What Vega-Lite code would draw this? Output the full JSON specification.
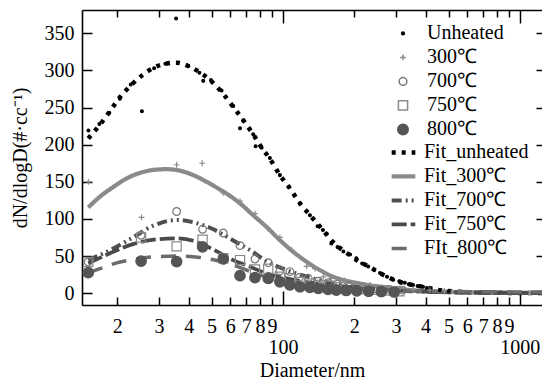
{
  "$schema": "https://vega.github.io/schema/vega-lite/v6.json",
  "width": 460,
  "height": 295,
  "autosize": {"type": "none"},
  "padding": {"left": 82, "top": 10, "right": 0, "bottom": 77},
  "background": "white",
  "config": {
    "view": {"stroke": null},
    "font": "Liberation Serif",
    "axis": {"grid": false, "labelFont": "Liberation Serif", "titleFont": "Liberation Serif", "labelFontSize": 20, "titleFontSize": 20, "titleFontWeight": "normal", "labelColor": "black", "titleColor": "black", "tickColor": "black", "domainColor": "black", "domainWidth": 1.6, "tickWidth": 1.5, "labelOverlap": false, "labelFlush": false},
    "legend": {"labelFont": "Liberation Serif", "labelFontSize": 20, "labelColor": "black", "padding": 0, "rowPadding": 3, "clipHeight": 20.8}
  },
  "datasets": {
    "pts": [
      {"d": 15.1, "v": 219, "series": "Unheated"},
      {"d": 16.8, "v": 228, "series": "Unheated"},
      {"d": 18.5, "v": 243, "series": "Unheated"},
      {"d": 20.5, "v": 262, "series": "Unheated"},
      {"d": 22.8, "v": 281, "series": "Unheated"},
      {"d": 25.4, "v": 245, "series": "Unheated"},
      {"d": 28.6, "v": 303, "series": "Unheated"},
      {"d": 31.9, "v": 309, "series": "Unheated"},
      {"d": 35.4, "v": 370, "series": "Unheated"},
      {"d": 39.9, "v": 306, "series": "Unheated"},
      {"d": 44.4, "v": 297, "series": "Unheated"},
      {"d": 46.1, "v": 286, "series": "Unheated"},
      {"d": 49.7, "v": 287, "series": "Unheated"},
      {"d": 55.1, "v": 273, "series": "Unheated"},
      {"d": 61.7, "v": 252, "series": "Unheated"},
      {"d": 65.9, "v": 222, "series": "Unheated"},
      {"d": 68, "v": 233, "series": "Unheated"},
      {"d": 74.9, "v": 214, "series": "Unheated"},
      {"d": 76.7, "v": 198, "series": "Unheated"},
      {"d": 81.3, "v": 196, "series": "Unheated"},
      {"d": 88.1, "v": 182, "series": "Unheated"},
      {"d": 97.1, "v": 159, "series": "Unheated"},
      {"d": 106, "v": 143, "series": "Unheated"},
      {"d": 118, "v": 121, "series": "Unheated"},
      {"d": 130, "v": 105, "series": "Unheated"},
      {"d": 140, "v": 90, "series": "Unheated"},
      {"d": 147.5, "v": 85, "series": "Unheated"},
      {"d": 153, "v": 80, "series": "Unheated"},
      {"d": 160, "v": 67, "series": "Unheated"},
      {"d": 170, "v": 62, "series": "Unheated"},
      {"d": 180, "v": 56, "series": "Unheated"},
      {"d": 192, "v": 52, "series": "Unheated"},
      {"d": 204, "v": 47, "series": "Unheated"},
      {"d": 216, "v": 40, "series": "Unheated"},
      {"d": 229, "v": 36, "series": "Unheated"},
      {"d": 243, "v": 31, "series": "Unheated"},
      {"d": 257, "v": 27, "series": "Unheated"},
      {"d": 275, "v": 22, "series": "Unheated"},
      {"d": 292, "v": 18, "series": "Unheated"},
      {"d": 310, "v": 16, "series": "Unheated"},
      {"d": 327, "v": 14, "series": "Unheated"},
      {"d": 340, "v": 12, "series": "Unheated"},
      {"d": 354, "v": 11, "series": "Unheated"},
      {"d": 370, "v": 9.5, "series": "Unheated"},
      {"d": 390, "v": 8.5, "series": "Unheated"},
      {"d": 405, "v": 7, "series": "Unheated"},
      {"d": 420, "v": 6, "series": "Unheated"},
      {"d": 460, "v": 4, "series": "Unheated"},
      {"d": 500, "v": 2.5, "series": "Unheated"},
      {"d": 15.1, "v": 150, "series": "300℃"},
      {"d": 25.3, "v": 102, "series": "300℃"},
      {"d": 35.6, "v": 173, "series": "300℃"},
      {"d": 45.6, "v": 175, "series": "300℃"},
      {"d": 56, "v": 135, "series": "300℃"},
      {"d": 65.9, "v": 124, "series": "300℃"},
      {"d": 76.2, "v": 107, "series": "300℃"},
      {"d": 86.7, "v": 87, "series": "300℃"},
      {"d": 97.1, "v": 75, "series": "300℃"},
      {"d": 108.8, "v": 58, "series": "300℃"},
      {"d": 125.9, "v": 36, "series": "300℃"},
      {"d": 136.5, "v": 33, "series": "300℃"},
      {"d": 148, "v": 22, "series": "300℃"},
      {"d": 160, "v": 20, "series": "300℃"},
      {"d": 182, "v": 17, "series": "300℃"},
      {"d": 205, "v": 12, "series": "300℃"},
      {"d": 233, "v": 11, "series": "300℃"},
      {"d": 262, "v": 8, "series": "300℃"},
      {"d": 312, "v": 6.5, "series": "300℃"},
      {"d": 355, "v": 5, "series": "300℃"},
      {"d": 417, "v": 4, "series": "300℃"},
      {"d": 480, "v": 3, "series": "300℃"},
      {"d": 15.08, "v": 42, "series": "700℃"},
      {"d": 25.2, "v": 78, "series": "700℃"},
      {"d": 35.6, "v": 110, "series": "700℃"},
      {"d": 45.8, "v": 86, "series": "700℃"},
      {"d": 56, "v": 81, "series": "700℃"},
      {"d": 65.9, "v": 64, "series": "700℃"},
      {"d": 76.2, "v": 46, "series": "700℃"},
      {"d": 86.7, "v": 41, "series": "700℃"},
      {"d": 97.1, "v": 30, "series": "700℃"},
      {"d": 107, "v": 29, "series": "700℃"},
      {"d": 117.2, "v": 21, "series": "700℃"},
      {"d": 127.9, "v": 20, "series": "700℃"},
      {"d": 141, "v": 16, "series": "700℃"},
      {"d": 155, "v": 14, "series": "700℃"},
      {"d": 170, "v": 12, "series": "700℃"},
      {"d": 190, "v": 10, "series": "700℃"},
      {"d": 215, "v": 8, "series": "700℃"},
      {"d": 245, "v": 6, "series": "700℃"},
      {"d": 280, "v": 5, "series": "700℃"},
      {"d": 320, "v": 4, "series": "700℃"},
      {"d": 15.08, "v": 42, "series": "750℃"},
      {"d": 25.2, "v": 75, "series": "750℃"},
      {"d": 35.6, "v": 63, "series": "750℃"},
      {"d": 45.8, "v": 72, "series": "750℃"},
      {"d": 56, "v": 47, "series": "750℃"},
      {"d": 65.9, "v": 44.5, "series": "750℃"},
      {"d": 76.2, "v": 32, "series": "750℃"},
      {"d": 86.7, "v": 33, "series": "750℃"},
      {"d": 97.1, "v": 22, "series": "750℃"},
      {"d": 107, "v": 20, "series": "750℃"},
      {"d": 118, "v": 15, "series": "750℃"},
      {"d": 130, "v": 13, "series": "750℃"},
      {"d": 143, "v": 11, "series": "750℃"},
      {"d": 158, "v": 10, "series": "750℃"},
      {"d": 175, "v": 8, "series": "750℃"},
      {"d": 195, "v": 7, "series": "750℃"},
      {"d": 218, "v": 5.5, "series": "750℃"},
      {"d": 245, "v": 4.5, "series": "750℃"},
      {"d": 275, "v": 3.5, "series": "750℃"},
      {"d": 310, "v": 2.5, "series": "750℃"},
      {"d": 15.08, "v": 27.5, "series": "800℃"},
      {"d": 25.2, "v": 43, "series": "800℃"},
      {"d": 35.6, "v": 42.5, "series": "800℃"},
      {"d": 45.8, "v": 62.4, "series": "800℃"},
      {"d": 56, "v": 46, "series": "800℃"},
      {"d": 65.9, "v": 23.5, "series": "800℃"},
      {"d": 76.2, "v": 21, "series": "800℃"},
      {"d": 86.7, "v": 19.8, "series": "800℃"},
      {"d": 97.1, "v": 15.2, "series": "800℃"},
      {"d": 107, "v": 11, "series": "800℃"},
      {"d": 118, "v": 8.5, "series": "800℃"},
      {"d": 130, "v": 7.7, "series": "800℃"},
      {"d": 141, "v": 6.3, "series": "800℃"},
      {"d": 155, "v": 5, "series": "800℃"},
      {"d": 168, "v": 4, "series": "800℃"},
      {"d": 185, "v": 3.5, "series": "800℃"},
      {"d": 205, "v": 3, "series": "800℃"},
      {"d": 230, "v": 2.5, "series": "800℃"},
      {"d": 260, "v": 2, "series": "800℃"},
      {"d": 295, "v": 1.5, "series": "800℃"}
    ],
    "fits": [
      {"d": 15.08, "v": 208.5, "fit": "Fit_unheated"},
      {"d": 16.79, "v": 226, "fit": "Fit_unheated"},
      {"d": 18.5, "v": 244, "fit": "Fit_unheated"},
      {"d": 20.52, "v": 264, "fit": "Fit_unheated"},
      {"d": 22.84, "v": 280, "fit": "Fit_unheated"},
      {"d": 25.59, "v": 294, "fit": "Fit_unheated"},
      {"d": 28.56, "v": 304, "fit": "Fit_unheated"},
      {"d": 31.87, "v": 309, "fit": "Fit_unheated"},
      {"d": 35.61, "v": 310.5, "fit": "Fit_unheated"},
      {"d": 39.85, "v": 306, "fit": "Fit_unheated"},
      {"d": 44.36, "v": 298, "fit": "Fit_unheated"},
      {"d": 49.7, "v": 286, "fit": "Fit_unheated"},
      {"d": 55.13, "v": 271, "fit": "Fit_unheated"},
      {"d": 61.7, "v": 251, "fit": "Fit_unheated"},
      {"d": 68, "v": 233, "fit": "Fit_unheated"},
      {"d": 74.9, "v": 214, "fit": "Fit_unheated"},
      {"d": 81.3, "v": 196, "fit": "Fit_unheated"},
      {"d": 88.1, "v": 181, "fit": "Fit_unheated"},
      {"d": 97.1, "v": 159, "fit": "Fit_unheated"},
      {"d": 106, "v": 143, "fit": "Fit_unheated"},
      {"d": 118, "v": 121, "fit": "Fit_unheated"},
      {"d": 130, "v": 105, "fit": "Fit_unheated"},
      {"d": 147.5, "v": 85, "fit": "Fit_unheated"},
      {"d": 162.5, "v": 69, "fit": "Fit_unheated"},
      {"d": 186, "v": 54, "fit": "Fit_unheated"},
      {"d": 211, "v": 42, "fit": "Fit_unheated"},
      {"d": 233, "v": 35, "fit": "Fit_unheated"},
      {"d": 275, "v": 22, "fit": "Fit_unheated"},
      {"d": 312, "v": 15, "fit": "Fit_unheated"},
      {"d": 354, "v": 11, "fit": "Fit_unheated"},
      {"d": 390, "v": 8.5, "fit": "Fit_unheated"},
      {"d": 460, "v": 4, "fit": "Fit_unheated"},
      {"d": 558, "v": 1.8, "fit": "Fit_unheated"},
      {"d": 700, "v": 0.7, "fit": "Fit_unheated"},
      {"d": 900, "v": 0.3, "fit": "Fit_unheated"},
      {"d": 1240, "v": 0.1, "fit": "Fit_unheated"},
      {"d": 15.08, "v": 115.5, "fit": "Fit_300℃"},
      {"d": 16.9, "v": 130, "fit": "Fit_300℃"},
      {"d": 19.23, "v": 143, "fit": "Fit_300℃"},
      {"d": 21.9, "v": 154.6, "fit": "Fit_300℃"},
      {"d": 24.93, "v": 162, "fit": "Fit_300℃"},
      {"d": 28.36, "v": 166, "fit": "Fit_300℃"},
      {"d": 32.31, "v": 167, "fit": "Fit_300℃"},
      {"d": 36.77, "v": 165, "fit": "Fit_300℃"},
      {"d": 41.83, "v": 159, "fit": "Fit_300℃"},
      {"d": 47.65, "v": 150, "fit": "Fit_300℃"},
      {"d": 53.3, "v": 141, "fit": "Fit_300℃"},
      {"d": 57.9, "v": 134, "fit": "Fit_300℃"},
      {"d": 65.9, "v": 121, "fit": "Fit_300℃"},
      {"d": 74.9, "v": 105, "fit": "Fit_300℃"},
      {"d": 85.4, "v": 89, "fit": "Fit_300℃"},
      {"d": 97.1, "v": 71.4, "fit": "Fit_300℃"},
      {"d": 110.5, "v": 55.7, "fit": "Fit_300℃"},
      {"d": 125.9, "v": 42.2, "fit": "Fit_300℃"},
      {"d": 143.3, "v": 31, "fit": "Fit_300℃"},
      {"d": 163, "v": 22, "fit": "Fit_300℃"},
      {"d": 174, "v": 19, "fit": "Fit_300℃"},
      {"d": 211.3, "v": 13, "fit": "Fit_300℃"},
      {"d": 256.7, "v": 8.5, "fit": "Fit_300℃"},
      {"d": 320.9, "v": 5, "fit": "Fit_300℃"},
      {"d": 460, "v": 2, "fit": "Fit_300℃"},
      {"d": 823, "v": 0.6, "fit": "Fit_300℃"},
      {"d": 1240, "v": 0.2, "fit": "Fit_300℃"},
      {"d": 15.08, "v": 44.5, "fit": "Fit_700℃"},
      {"d": 19.23, "v": 60, "fit": "Fit_700℃"},
      {"d": 23.3, "v": 75, "fit": "Fit_700℃"},
      {"d": 28.4, "v": 91, "fit": "Fit_700℃"},
      {"d": 35.6, "v": 98.5, "fit": "Fit_700℃"},
      {"d": 44.6, "v": 93, "fit": "Fit_700℃"},
      {"d": 50.8, "v": 86, "fit": "Fit_700℃"},
      {"d": 61.7, "v": 71, "fit": "Fit_700℃"},
      {"d": 72.6, "v": 58, "fit": "Fit_700℃"},
      {"d": 83.9, "v": 44.5, "fit": "Fit_700℃"},
      {"d": 97.1, "v": 34.6, "fit": "Fit_700℃"},
      {"d": 114, "v": 26.5, "fit": "Fit_700℃"},
      {"d": 134, "v": 19.8, "fit": "Fit_700℃"},
      {"d": 163, "v": 13, "fit": "Fit_700℃"},
      {"d": 200, "v": 8.5, "fit": "Fit_700℃"},
      {"d": 257, "v": 5, "fit": "Fit_700℃"},
      {"d": 330, "v": 3, "fit": "Fit_700℃"},
      {"d": 460, "v": 1.5, "fit": "Fit_700℃"},
      {"d": 700, "v": 0.6, "fit": "Fit_700℃"},
      {"d": 1240, "v": 0.2, "fit": "Fit_700℃"},
      {"d": 15.08, "v": 40, "fit": "Fit_750℃"},
      {"d": 19.23, "v": 55.7, "fit": "Fit_750℃"},
      {"d": 23.3, "v": 66, "fit": "Fit_750℃"},
      {"d": 29.3, "v": 72.4, "fit": "Fit_750℃"},
      {"d": 35.6, "v": 73.7, "fit": "Fit_750℃"},
      {"d": 41.8, "v": 70.5, "fit": "Fit_750℃"},
      {"d": 49.2, "v": 61, "fit": "Fit_750℃"},
      {"d": 61.7, "v": 44.5, "fit": "Fit_750℃"},
      {"d": 72.6, "v": 35.5, "fit": "Fit_750℃"},
      {"d": 85.4, "v": 26.5, "fit": "Fit_750℃"},
      {"d": 103.7, "v": 19.8, "fit": "Fit_750℃"},
      {"d": 126, "v": 15, "fit": "Fit_750℃"},
      {"d": 163, "v": 10.5, "fit": "Fit_750℃"},
      {"d": 210, "v": 7, "fit": "Fit_750℃"},
      {"d": 257, "v": 5, "fit": "Fit_750℃"},
      {"d": 330, "v": 3, "fit": "Fit_750℃"},
      {"d": 460, "v": 1.5, "fit": "Fit_750℃"},
      {"d": 700, "v": 0.6, "fit": "Fit_750℃"},
      {"d": 1240, "v": 0.2, "fit": "Fit_750℃"},
      {"d": 15.08, "v": 27, "fit": "FIt_800℃"},
      {"d": 16.9, "v": 33, "fit": "FIt_800℃"},
      {"d": 19.9, "v": 40.8, "fit": "FIt_800℃"},
      {"d": 23.3, "v": 45.4, "fit": "FIt_800℃"},
      {"d": 26.5, "v": 48, "fit": "FIt_800℃"},
      {"d": 35.6, "v": 50, "fit": "FIt_800℃"},
      {"d": 44.6, "v": 48, "fit": "FIt_800℃"},
      {"d": 52.5, "v": 44, "fit": "FIt_800℃"},
      {"d": 61.7, "v": 37.7, "fit": "FIt_800℃"},
      {"d": 80, "v": 24.3, "fit": "FIt_800℃"},
      {"d": 97.1, "v": 17.5, "fit": "FIt_800℃"},
      {"d": 118, "v": 13, "fit": "FIt_800℃"},
      {"d": 143, "v": 9.4, "fit": "FIt_800℃"},
      {"d": 200, "v": 6, "fit": "FIt_800℃"},
      {"d": 257, "v": 4.5, "fit": "FIt_800℃"},
      {"d": 330, "v": 3.2, "fit": "FIt_800℃"},
      {"d": 460, "v": 2.3, "fit": "FIt_800℃"},
      {"d": 700, "v": 1.8, "fit": "FIt_800℃"},
      {"d": 1000, "v": 1.6, "fit": "FIt_800℃"},
      {"d": 1240, "v": 1.5, "fit": "FIt_800℃"}
    ]
  },
  "layer": [
    {
      "data": {"name": "fits"},
      "mark": {"type": "line", "interpolate": "monotone", "strokeCap": "butt"},
      "encoding": {
        "x": {"field": "d", "type": "quantitative", "scale": {"type": "log", "domain": [14.19, 1240], "nice": false},
              "axis": {"orient": "top", "title": null, "labels": false, "domain": true, "values": [20,30,40,50,60,70,80,90,100,200,300,400,500,600,700,800,900,1000],
                       "tickSize": {"condition": {"test": "datum.value == 100 || datum.value == 1000", "value": -13}, "value": -7}}},
        "y": {"field": "v", "type": "quantitative", "scale": {"domain": [-16, 381.5], "nice": false, "zero": false},
              "axis": {"orient": "right", "title": null, "labels": false, "domain": false, "values": [0,50,100,150,200,250,300,350], "tickSize": -6}},
        "color": {"field": "fit", "type": "nominal",
                  "scale": {"domain": ["Fit_unheated", "Fit_300℃", "Fit_700℃", "Fit_750℃", "FIt_800℃"], "range": ["#000000", "#8a8a8a", "#4f4f4f", "#4a4a4a", "#6c6c6c"]},
                  "legend": {"title": null, "orient": "none", "legendX": 307, "legendY": 132, "symbolType": "stroke", "symbolSize": 560, "labelOffset": 6}},
        "strokeDash": {"field": "fit", "type": "nominal",
                  "scale": {"domain": ["Fit_unheated", "Fit_300℃", "Fit_700℃", "Fit_750℃", "FIt_800℃"], "range": [[4, 6], [1, 0], [10, 4, 2, 4, 2, 4], [15, 4], [15, 10]]},
                  "legend": {"title": null, "orient": "none", "legendX": 307, "legendY": 132, "symbolType": "stroke", "symbolSize": 560, "labelOffset": 6}},
        "strokeWidth": {"field": "fit", "type": "nominal",
                  "scale": {"domain": ["Fit_unheated", "Fit_300℃", "Fit_700℃", "Fit_750℃", "FIt_800℃"], "range": [4.5, 3.5, 4, 4.5, 4.5]},
                  "legend": {"title": null, "orient": "none", "legendX": 307, "legendY": 132, "symbolType": "stroke", "symbolSize": 560, "labelOffset": 6}}
      }
    },
    {
      "data": {"name": "pts"},
      "mark": {"type": "point", "strokeWidth": 1.2, "opacity": 1},
      "encoding": {
        "x": {"field": "d", "type": "quantitative", "scale": {"type": "log", "domain": [14.19, 1240], "nice": false},
              "axis": {"orient": "bottom", "title": "Diameter/nm", "titlePadding": 3, "domain": true, "values": [20,30,40,50,60,70,80,90,100,200,300,400,500,600,700,800,900,1000],
                       "labelExpr": "datum.value == 100 ? '100' : datum.value == 1000 ? '1000' : datum.value < 100 ? format(datum.value / 10, 'd') : format(datum.value / 100, 'd')",
                       "tickSize": {"condition": {"test": "datum.value == 100 || datum.value == 1000", "value": -14}, "value": -8},
                       "labelPadding": {"condition": {"test": "datum.value == 100 || datum.value == 1000", "value": 46}, "value": 19}}},
        "y": {"field": "v", "type": "quantitative", "scale": {"domain": [-16, 381.5], "nice": false, "zero": false},
              "axis": {"orient": "left", "title": "dN/dlogD(#·cc⁻¹)", "titlePadding": 14, "domain": true, "values": [0,50,100,150,200,250,300,350], "tickSize": -10, "labelPadding": 18}},
        "shape": {"field": "series", "type": "nominal",
                  "scale": {"domain": ["Unheated", "300℃", "700℃", "750℃", "800℃"], "range": ["circle", "M-1,0H1M0,-1V1", "circle", "square", "circle"]},
                  "legend": {"title": null, "orient": "none", "legendX": 311, "legendY": 13, "labelOffset": 14}},
        "size": {"field": "series", "type": "nominal",
                  "scale": {"domain": ["Unheated", "300℃", "700℃", "750℃", "800℃"], "range": [8, 110, 100, 95, 110]},
                  "legend": {"title": null, "orient": "none", "legendX": 311, "legendY": 13, "labelOffset": 14}},
        "fill": {"field": "series", "type": "nominal",
                  "scale": {"domain": ["Unheated", "300℃", "700℃", "750℃", "800℃"], "range": ["#000000", "transparent", "transparent", "transparent", "#555555"]},
                  "legend": {"title": null, "orient": "none", "legendX": 311, "legendY": 13, "labelOffset": 14}},
        "stroke": {"field": "series", "type": "nominal",
                  "scale": {"domain": ["Unheated", "300℃", "700℃", "750℃", "800℃"], "range": ["#000000", "#8a8a8a", "#777777", "#8a8a8a", "#555555"]},
                  "legend": {"title": null, "orient": "none", "legendX": 311, "legendY": 13, "labelOffset": 14}}
      }
    }
  ],
  "resolve": {"axis": {"x": "independent", "y": "independent"}}
}
